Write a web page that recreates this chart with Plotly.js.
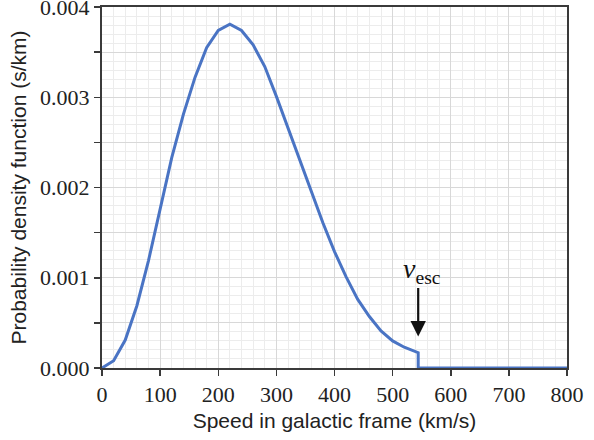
<!DOCTYPE html>
<html>
<head>
<meta charset="utf-8">
<script src="https://cdn.plot.ly/plotly-3.0.1.min.js"></script>
<style>html,body{margin:0;padding:0;background:#fff;}#chart{width:594px;height:440px;}</style>
</head>
<body>
<div id="chart"></div>
<script>
// Speed in galactic frame (km/s)
const speed = [0, 20, 40, 60, 80, 100, 120, 140, 160, 180, 200, 220, 240, 260, 280, 300, 320, 340, 360, 380, 400, 420, 440, 460, 480, 500, 520, 540, 544, 544, 800];
// Probability density function (s/km)
const pdf = [0, 0.00008, 0.00031, 0.00069, 0.00119, 0.00177, 0.00233, 0.00281, 0.00322, 0.00355, 0.00374, 0.00381, 0.00374, 0.00358, 0.00334, 0.00301, 0.00266, 0.00231, 0.00195, 0.00161, 0.00129, 0.00101, 0.00076, 0.00057, 0.00041, 0.00030, 0.00023, 0.00018, 0.00017, 0, 0];

const yTickVals = [0, 0.0005, 0.001, 0.0015, 0.002, 0.0025, 0.003, 0.0035, 0.004];
const yTickText = ['0.000', ' ', '0.001', ' ', '0.002', ' ', '0.003', ' ', '0.004'];
const xTickVals = [0, 100, 200, 300, 400, 500, 600, 700, 800];
const xTickText = ['0', '100', '200', '300', '400', '500', '600', '700', '800'];

const vEsc = 544;
const arrowTipY = 0.00035;

const axisColor = '#3a3a3a';
const tickFont = {family: 'Liberation Serif', size: 22, color: '#222'};
const titleFont = {family: 'Liberation Sans', size: 21, color: '#222'};

const trace = {
  x: speed, y: pdf, type: 'scatter', mode: 'lines',
  line: {color: '#4a74c4', width: 3},
  cliponaxis: false, hoverinfo: 'none'
};

const layout = {
  width: 594, height: 440,
  margin: {l: 102, r: 27, t: 7, b: 72},
  paper_bgcolor: '#fff', plot_bgcolor: '#fff',
  showlegend: false,
  xaxis: {
    range: [0, 800], tickvals: xTickVals, ticktext: xTickText,
    ticks: 'outside', ticklen: 6, tickwidth: 1.5, tickcolor: axisColor,
    showline: true, linecolor: axisColor, linewidth: 2, mirror: true,
    showgrid: true, gridcolor: '#d8d8d8', gridwidth: 1,
    minor: {dtick: 20, showgrid: true, gridcolor: '#ececec', gridwidth: 1, ticks: ''},
    zeroline: false, layer: 'below traces',
    tickfont: tickFont, ticklabeloverflow: 'allow',
    title: {text: 'Speed in galactic frame (km/s)', font: titleFont, standoff: 7}
  },
  yaxis: {
    range: [0, 0.004], tickvals: yTickVals, ticktext: yTickText,
    ticks: 'outside', ticklen: 6, tickwidth: 1.5, tickcolor: axisColor,
    showline: true, linecolor: axisColor, linewidth: 2, mirror: true,
    showgrid: true, gridcolor: '#d8d8d8', gridwidth: 1,
    minor: {dtick: 0.0001, showgrid: true, gridcolor: '#ececec', gridwidth: 1, ticks: ''},
    zeroline: false, layer: 'below traces',
    tickfont: tickFont, ticklabeloverflow: 'allow',
    title: {text: 'Probability density function (s/km)', font: titleFont, standoff: 8}
  },
  annotations: [
    {
      x: vEsc, y: arrowTipY, xref: 'x', yref: 'y',
      ax: 0, ay: -50, axref: 'pixel', ayref: 'pixel',
      text: '', showarrow: true, arrowhead: 2, arrowsize: 1.4, arrowwidth: 2.2, arrowcolor: '#111'
    },
    {
      x: vEsc, y: arrowTipY, xref: 'x', yref: 'y',
      xshift: 4, yshift: 66,
      text: '<i>v</i><sub>esc</sub>', showarrow: false,
      font: {family: 'Liberation Serif', size: 28, color: '#111'}
    }
  ]
};

Plotly.newPlot('chart', [trace], layout, {staticPlot: true, displayModeBar: false});
</script>
</body>
</html>
